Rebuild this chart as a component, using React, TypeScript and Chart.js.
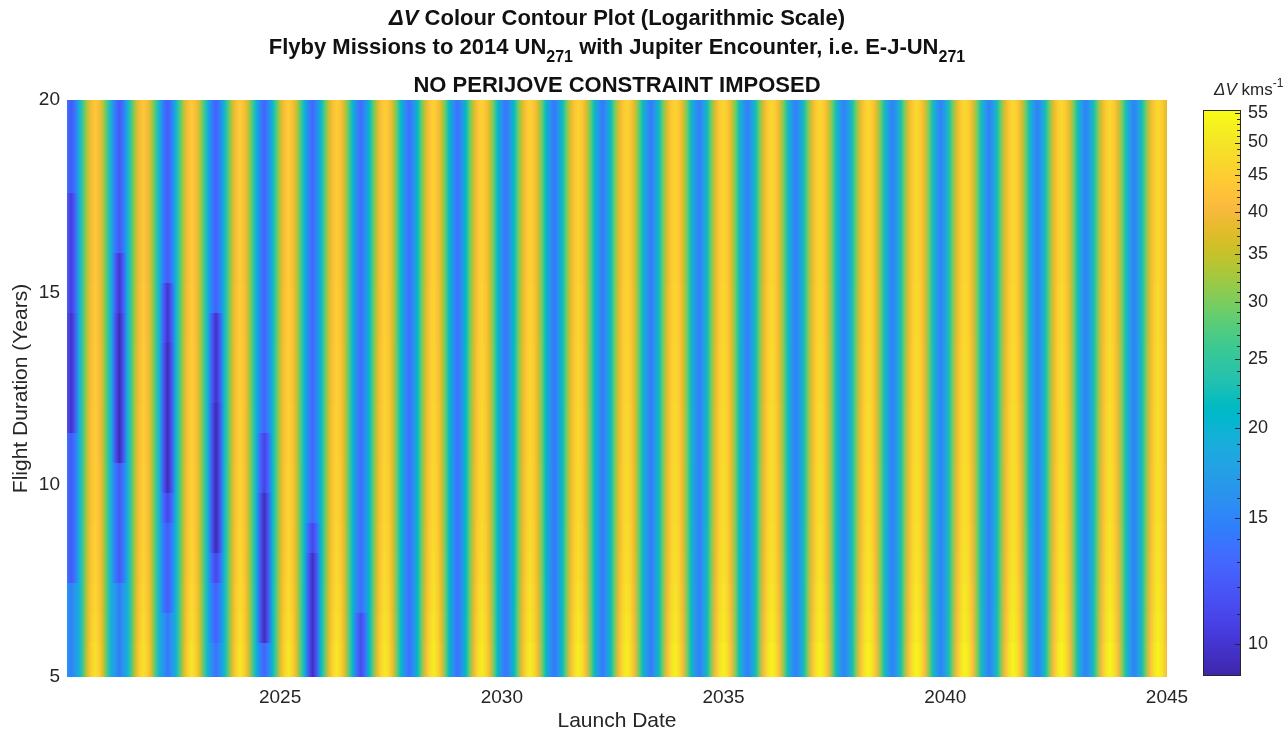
import React, { useEffect, useRef } from "react";
import { Chart, registerables } from "chart.js";
Chart.register(...registerables);

// ---------------- Data ----------------
// Launch-date grid (decimal years): first sample and spacing (1/12 of the ~1.09 yr Earth–Jupiter synodic cycle)
const LAUNCH_START = 2020.195;
const LAUNCH_STEP = 0.0908;

// Flight-duration rows (years, row centres)
const FLIGHT_YEARS = [5.49, 6.27, 7.05, 7.83, 8.61, 9.39, 10.17, 10.95, 11.73, 12.51, 13.29, 14.07, 14.85, 15.63, 16.41, 17.19, 17.97, 18.75, 19.53];

// ΔV (km/s) along launch date for the upper rows; first sample, then one line per cycle starting at each minimum
const DV_LEAD = [14.0];
const DV_CYCLES = [
  [12.0, 14.0, 19.2, 26.2, 33.9, 40.2, 44.0, 40.2, 33.9, 26.2, 19.2, 14.0],
  [12.1, 14.1, 19.3, 26.3, 33.9, 40.2, 44.1, 40.3, 34.0, 26.3, 19.3, 14.1],
  [12.3, 14.4, 19.6, 26.6, 34.3, 40.7, 44.5, 40.7, 34.3, 26.6, 19.6, 14.4],
  [12.6, 14.7, 19.9, 27.0, 34.8, 41.1, 45.0, 41.1, 34.8, 27.0, 19.9, 14.7],
  [12.8, 14.9, 20.1, 27.2, 35.0, 41.2, 45.0, 41.2, 35.0, 27.2, 20.1, 14.9],
  [13.0, 15.1, 20.3, 27.4, 35.2, 41.4, 45.2, 41.4, 35.2, 27.4, 20.3, 15.1],
  [13.3, 15.4, 20.7, 27.8, 35.6, 41.8, 45.5, 41.8, 35.6, 27.8, 20.7, 15.4],
  [13.5, 15.6, 21.0, 28.2, 36.0, 42.2, 46.0, 42.2, 36.0, 28.2, 21.0, 15.6],
  [13.7, 15.8, 21.2, 28.4, 36.1, 42.3, 46.0, 42.3, 36.1, 28.4, 21.2, 15.8],
  [13.9, 16.0, 21.4, 28.6, 36.3, 42.4, 46.2, 42.4, 36.3, 28.6, 21.4, 16.0],
  [14.1, 16.3, 21.7, 28.8, 36.6, 42.7, 46.4, 42.7, 36.6, 28.8, 21.7, 16.3],
  [14.2, 16.4, 21.8, 28.9, 36.7, 42.8, 46.5, 42.8, 36.7, 28.9, 21.8, 16.4],
  [14.3, 16.5, 21.9, 29.1, 36.9, 43.0, 46.7, 43.0, 36.9, 29.1, 21.9, 16.5],
  [14.5, 16.7, 22.2, 29.4, 37.2, 43.3, 47.0, 43.3, 37.2, 29.4, 22.2, 16.7],
  [14.6, 16.8, 22.3, 29.6, 37.4, 43.5, 47.2, 43.5, 37.4, 29.6, 22.3, 16.8],
  [14.7, 16.9, 22.4, 29.7, 37.5, 43.7, 47.4, 43.7, 37.5, 29.7, 22.4, 16.9],
  [14.8, 17.0, 22.5, 29.8, 37.6, 43.8, 47.5, 43.8, 37.6, 29.8, 22.5, 17.0],
  [14.8, 17.0, 22.5, 29.9, 37.7, 43.9, 47.7, 43.9, 37.7, 29.9, 22.5, 17.0],
  [14.9, 17.1, 22.6, 29.9, 37.7, 43.9, 47.7, 43.9, 37.7, 29.9, 22.6, 17.1],
  [14.8, 17.0, 22.5, 29.8, 37.6, 43.8, 47.6, 43.8, 37.6, 29.8, 22.5, 17.0],
  [14.8, 17.0, 22.5, 29.8, 37.7, 43.9, 47.7, 43.9, 37.7, 29.8, 22.5, 17.0],
  [14.9, 17.1, 22.6, 29.9, 37.8, 44.0, 47.8, 44.0, 37.8, 29.9, 22.6, 17.1],
  [14.9, 17.1, 22.6, 29.9, 37.8, 44.0, 47.8, 44.0, 37.8, 29.9],
];

// Peak brightening per row (bottom row first): short flights reach higher ΔV maxima
const ROW_PEAK_GAIN = [1.13, 1.10, 1.08, 1.06, 1.05, 1.04, 1.04, 1.03, 1.03, 1.02, 1.02, 1.01, 1.01, 1.0, 1.0, 1.0, 1.0, 1.0, 1.0];

// Minimum overrides: [cycle index, from flight yrs, to flight yrs, ΔV at minimum, ΔV beside minimum]
const MINIMA_PATCHES = [
  [0, 5.0, 7.5, 14.5, 16.8],
  [1, 5.0, 7.5, 14.3, 16.6],
  [2, 5.0, 6.7, 14.0, 16.3],
  [3, 5.0, 6.0, 13.6, 15.9],
  [0, 11.3, 17.7, 10.4, 12.6],
  [0, 11.3, 14.5, 9.7, 12.0],
  [1, 10.6, 16.2, 10.0, 12.4],
  [1, 10.6, 14.5, 9.3, 11.8],
  [2, 9.0, 9.8, 11.0, 13.0],
  [2, 9.8, 15.3, 9.9, 12.3],
  [2, 9.8, 14.0, 9.3, 11.8],
  [3, 7.4, 8.2, 11.0, 13.0],
  [3, 8.2, 14.5, 9.8, 12.2],
  [3, 8.2, 12.5, 9.2, 11.7],
  [4, 9.8, 11.0, 10.8, 12.8],
  [4, 5.9, 9.8, 9.4, 11.9],
  [5, 8.2, 9.0, 11.0, 13.0],
  [5, 5.0, 8.2, 9.6, 12.0],
  [6, 5.0, 6.6, 11.2, 13.3],
];

const X_MIN = 2020.195;
const X_MAX = 2045;
const Y_MIN = 5;
const Y_MAX = 20;
const X_TICKS = [2025, 2030, 2035, 2040, 2045];
const Y_TICKS = [5, 10, 15, 20];
const CBAR_TICKS = [10, 15, 20, 25, 30, 35, 40, 45, 50, 55];
const CBAR_MIN = 9.03;
const CBAR_MAX = 55.5;

// ---------------- Styling ----------------
const FONT = '"Liberation Sans", Arial, Helvetica, sans-serif';
const TEXT = "#262626";

const PARULA = [
  [0.2422, 0.1504, 0.6603], [0.2504, 0.165, 0.7076], [0.2578, 0.1818, 0.7511], [0.2647, 0.1978, 0.7952],
  [0.2706, 0.2147, 0.8364], [0.2751, 0.2342, 0.871], [0.2783, 0.2559, 0.8991], [0.2803, 0.2782, 0.9221],
  [0.2813, 0.3006, 0.9414], [0.281, 0.3228, 0.9579], [0.2795, 0.3447, 0.9717], [0.276, 0.3667, 0.9829],
  [0.2699, 0.3892, 0.9906], [0.2602, 0.4123, 0.9952], [0.244, 0.4358, 0.9988], [0.2206, 0.4603, 0.9973],
  [0.1963, 0.4847, 0.9892], [0.1834, 0.5074, 0.9798], [0.1786, 0.5289, 0.9682], [0.1764, 0.5499, 0.952],
  [0.1687, 0.5703, 0.9359], [0.154, 0.5902, 0.9218], [0.146, 0.6091, 0.9079], [0.138, 0.6276, 0.8973],
  [0.1248, 0.6459, 0.8883], [0.1113, 0.6635, 0.8763], [0.0952, 0.6798, 0.8598], [0.0689, 0.6948, 0.8394],
  [0.0297, 0.7082, 0.8163], [0.0036, 0.7203, 0.7917], [0.0067, 0.7312, 0.766], [0.0433, 0.7411, 0.7394],
  [0.0964, 0.75, 0.712], [0.1408, 0.7584, 0.6842], [0.1717, 0.767, 0.6554], [0.1938, 0.7758, 0.6251],
  [0.2161, 0.7843, 0.5923], [0.247, 0.7918, 0.5567], [0.2906, 0.7973, 0.5188], [0.3406, 0.8008, 0.4789],
  [0.3909, 0.8029, 0.4354], [0.4456, 0.8024, 0.3909], [0.5044, 0.7993, 0.348], [0.5616, 0.7942, 0.3045],
  [0.6174, 0.7876, 0.2612], [0.672, 0.7793, 0.2227], [0.7242, 0.7698, 0.191], [0.7738, 0.7598, 0.1646],
  [0.8203, 0.7498, 0.1535], [0.8634, 0.7406, 0.1596], [0.9035, 0.733, 0.1774], [0.9393, 0.7288, 0.21],
  [0.9728, 0.7298, 0.2394], [0.9956, 0.7434, 0.2371], [0.997, 0.7659, 0.2199], [0.9952, 0.7893, 0.2028],
  [0.9892, 0.8136, 0.1885], [0.9786, 0.8386, 0.1766], [0.9676, 0.8639, 0.1643], [0.961, 0.889, 0.1537],
  [0.9597, 0.9135, 0.1423], [0.9628, 0.9373, 0.1265], [0.9691, 0.9606, 0.1064], [0.9769, 0.9839, 0.0805],
];

const LOG_MIN = Math.log10(CBAR_MIN);
const LOG_MAX = Math.log10(CBAR_MAX);
const tOf = (v: number) => (Math.log10(v) - LOG_MIN) / (LOG_MAX - LOG_MIN);

function parulaColor(t: number): string {
  const tt = Math.min(1, Math.max(0, t));
  const f = tt * (PARULA.length - 1);
  const i = Math.min(PARULA.length - 2, Math.floor(f));
  const u = f - i;
  const a = PARULA[i];
  const b = PARULA[i + 1];
  const c = [0, 1, 2].map((k) => Math.round(255 * (a[k] + (b[k] - a[k]) * u)));
  return `rgb(${c[0]},${c[1]},${c[2]})`;
}

// ---------------- Table built from the arrays ----------------
const BASE_DV: number[] = [...DV_LEAD, ...DV_CYCLES.flat()];
const LAUNCH_DATES: number[] = BASE_DV.map((_, i) => +(LAUNCH_START + i * LAUNCH_STEP).toFixed(4));

type Cell = { x: number; y: number; v: number };

function buildCells(): Cell[] {
  const lg25 = Math.log10(25);
  const lg44 = Math.log10(44);
  const cells: Cell[] = [];
  FLIGHT_YEARS.forEach((fy, r) => {
    const gain = ROW_PEAK_GAIN[r];
    const vals = BASE_DV.map((v) => {
      const w = Math.min(1, Math.max(0, (Math.log10(v) - lg25) / (lg44 - lg25)));
      return v * Math.pow(gain, w);
    });
    MINIMA_PATCHES.forEach(([k, lo, hi, vMin, vSide]) => {
      if (fy >= lo && fy <= hi) {
        const c = 1 + 12 * k;
        vals[c] = vMin;
        if (c - 1 >= 0) vals[c - 1] = vSide;
        if (c + 1 < vals.length) vals[c + 1] = vSide;
      }
    });
    vals.forEach((v, c) => cells.push({ x: LAUNCH_DATES[c], y: fy, v }));
  });
  return cells;
}

const heatmapPlugin = {
  id: "heatmapRows",
  beforeDatasetsDraw(chart: any) {
    const { ctx, chartArea: a, scales } = chart;
    const xs = scales.x;
    const ys = scales.y;
    const cells: Cell[] = chart.data.datasets[0].data;
    const nCols = LAUNCH_DATES.length;
    ctx.save();
    ctx.beginPath();
    ctx.rect(a.left, a.top, a.right - a.left, a.bottom - a.top);
    ctx.clip();
    FLIGHT_YEARS.forEach((fy, r) => {
      const lo = r === 0 ? Y_MIN : (FLIGHT_YEARS[r - 1] + fy) / 2;
      const hi = r === FLIGHT_YEARS.length - 1 ? Y_MAX : (fy + FLIGHT_YEARS[r + 1]) / 2;
      const yTop = Math.round(ys.getPixelForValue(hi));
      const yBot = Math.round(ys.getPixelForValue(lo));
      const row = cells.slice(r * nCols, (r + 1) * nCols);
      const x0 = xs.getPixelForValue(row[0].x);
      const x1 = xs.getPixelForValue(row[row.length - 1].x);
      const grad = ctx.createLinearGradient(x0, 0, x1, 0);
      row.forEach((c) => {
        const off = Math.min(1, Math.max(0, (xs.getPixelForValue(c.x) - x0) / (x1 - x0)));
        grad.addColorStop(off, parulaColor(tOf(c.v)));
      });
      ctx.fillStyle = grad;
      ctx.fillRect(a.left, yTop, a.right - a.left, yBot - yTop);
    });
    ctx.restore();
  },
};

const colorbarPlugin = {
  id: "colorbarFill",
  beforeDatasetsDraw(chart: any) {
    const { ctx, chartArea: a, scales } = chart;
    const ys = scales.y;
    ctx.save();
    for (let py = Math.floor(a.top); py < Math.ceil(a.bottom); py++) {
      const v = ys.getValueForPixel(py + 0.5);
      ctx.fillStyle = parulaColor(tOf(v));
      ctx.fillRect(a.left, py, a.right - a.left, 1);
    }
    ctx.strokeStyle = TEXT;
    ctx.lineWidth = 1;
    ctx.strokeRect(Math.round(a.left) + 0.5, Math.round(a.top) + 0.5, Math.round(a.right - a.left) - 1, Math.round(a.bottom - a.top) - 1);
    ctx.beginPath();
    for (let v = Math.ceil(CBAR_MIN); v <= CBAR_MAX; v++) {
      const py = Math.round(ys.getPixelForValue(v)) + 0.5;
      const len = v % 5 === 0 ? 5 : 3;
      ctx.moveTo(a.right - 1, py);
      ctx.lineTo(a.right - 1 - len, py);
    }
    ctx.stroke();
    ctx.restore();
  },
};

export default function App() {
  const mainRef = useRef<HTMLCanvasElement>(null);
  const cbarRef = useRef<HTMLCanvasElement>(null);

  useEffect(() => {
    const cells = buildCells();
    const tickFont = { family: FONT, size: 19 };
    const labelFont = { family: FONT, size: 21 };
    const main = new Chart(mainRef.current as HTMLCanvasElement, {
      type: "scatter",
      data: {
        datasets: [
          {
            label: "ΔV (km/s)",
            data: cells as any,
            pointRadius: 0,
            pointHoverRadius: 0,
            showLine: false,
          },
        ],
      },
      options: {
        animation: false,
        responsive: false,
        events: [],
        layout: { padding: { left: 0, top: 100, right: 121, bottom: 0 } },
        plugins: { legend: { display: false }, tooltip: { enabled: false }, title: { display: false } },
        scales: {
          x: {
            type: "linear",
            min: X_MIN,
            max: X_MAX,
            afterFit: (s: any) => {
              s.height = 57;
            },
            afterBuildTicks: (s: any) => {
              s.ticks = X_TICKS.map((v) => ({ value: v }));
            },
            ticks: {
              font: tickFont,
              color: TEXT,
              padding: 9,
              maxRotation: 0,
              autoSkip: false,
              callback: (v: any) => String(v),
            },
            grid: { display: false, drawTicks: false },
            border: { display: false },
            title: { display: true, text: "Launch Date", font: labelFont, color: TEXT, padding: { top: 0, bottom: 0 } },
          },
          y: {
            type: "linear",
            min: Y_MIN,
            max: Y_MAX,
            afterFit: (s: any) => {
              s.width = 67;
            },
            afterBuildTicks: (s: any) => {
              s.ticks = Y_TICKS.map((v) => ({ value: v }));
            },
            ticks: { font: tickFont, color: TEXT, padding: 7, callback: (v: any) => String(v) },
            grid: { display: false, drawTicks: false },
            border: { display: false },
            title: {
              display: true,
              text: "Flight Duration (Years)",
              font: labelFont,
              color: TEXT,
              padding: { top: 9, bottom: 0 },
            },
          },
        },
      },
      plugins: [heatmapPlugin],
    } as any);

    const cbar = new Chart(cbarRef.current as HTMLCanvasElement, {
      type: "scatter",
      data: { datasets: [{ label: "colour scale", data: [], pointRadius: 0 }] },
      options: {
        animation: false,
        responsive: false,
        events: [],
        layout: { padding: { left: 53, top: 110, right: 0, bottom: 58 } },
        plugins: { legend: { display: false }, tooltip: { enabled: false } },
        scales: {
          x: { type: "linear", display: false, min: 0, max: 1 },
          y: {
            type: "logarithmic",
            position: "right",
            min: CBAR_MIN,
            max: CBAR_MAX,
            afterFit: (s: any) => {
              s.width = 47;
            },
            afterBuildTicks: (s: any) => {
              s.ticks = CBAR_TICKS.map((v) => ({ value: v, major: false }));
            },
            ticks: { font: { family: FONT, size: 18 }, color: TEXT, padding: 7, autoSkip: false, callback: (v: any) => String(v) },
            grid: { display: false, drawTicks: false },
            border: { display: false },
          },
        },
      },
      plugins: [colorbarPlugin],
    } as any);

    return () => {
      main.destroy();
      cbar.destroy();
    };
  }, []);

  const titleLine: React.CSSProperties = {
    position: "absolute",
    left: 67,
    width: 1100,
    textAlign: "center",
    fontSize: 22,
    fontWeight: "bold",
    lineHeight: "26px",
    color: "#111",
    whiteSpace: "nowrap",
  };
  const sub: React.CSSProperties = { fontSize: 16, position: "relative", top: 8 };

  return (
    <div
      style={{
        position: "absolute",
        left: 0,
        top: 0,
        width: 1288,
        height: 734,
        background: "#ffffff",
        fontFamily: FONT,
        overflow: "hidden",
      }}
    >
      <canvas ref={mainRef} width={1288} height={734} style={{ position: "absolute", left: 0, top: 0, width: 1288, height: 734 }} />
      <canvas ref={cbarRef} width={138} height={734} style={{ position: "absolute", left: 1150, top: 0, width: 138, height: 734 }} />
      <div style={{ ...titleLine, top: 5 }}>
        <i>ΔV</i> Colour Contour Plot (Logarithmic Scale)
      </div>
      <div style={{ ...titleLine, top: 34 }}>
        Flyby Missions to 2014 UN<span style={sub}>271</span> with Jupiter Encounter, i.e. E-J-UN<span style={sub}>271</span>
      </div>
      <div style={{ ...titleLine, top: 72 }}>NO PERIJOVE CONSTRAINT IMPOSED</div>
      <div
        style={{
          position: "absolute",
          left: 1214,
          top: 80,
          fontSize: 17,
          lineHeight: "20px",
          color: TEXT,
          whiteSpace: "nowrap",
        }}
      >
        <i>ΔV</i> kms<span style={{ fontSize: 12, position: "relative", top: -8 }}>-1</span>
      </div>
    </div>
  );
}
